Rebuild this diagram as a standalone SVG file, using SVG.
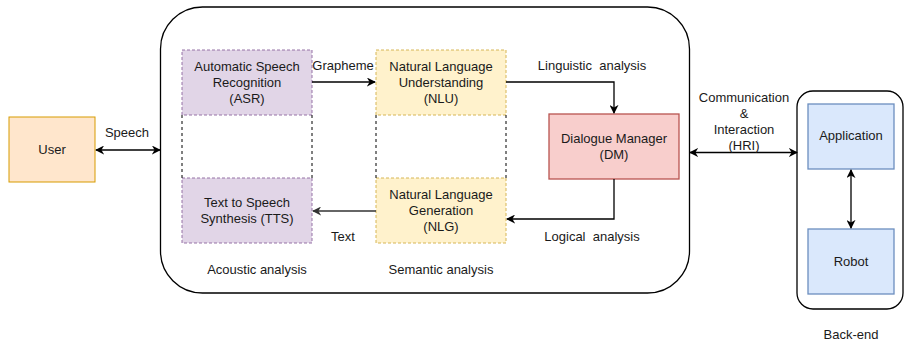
<svg xmlns="http://www.w3.org/2000/svg" width="904" height="344" viewBox="0 0 904 344">
<style>
text{font-family:"Liberation Sans",Arial,sans-serif;font-size:13px;fill:#1a1a1a;text-anchor:middle;white-space:pre}
.c{fill:none;stroke:#000;stroke-width:1.3}
.asr{fill:#e1d5e7;stroke:#9673a6;stroke-dasharray:3 2}
.nl{fill:#fff2cc;stroke:#d6b656;stroke-dasharray:3 2}
.dm{fill:#f8cecc;stroke:#b85450;stroke-width:1.3}
.bl{fill:#dae8fc;stroke:#6c8ebf;stroke-width:1.3}
.dash{fill:none;stroke:#000;stroke-dasharray:3 3}
</style>
<defs>
<marker id="a" viewBox="0 0 10 10" refX="9" refY="5" markerWidth="9" markerHeight="9" markerUnits="userSpaceOnUse" orient="auto-start-reverse">
<path d="M0,0 L10,5 L0,10 L3,5 Z" fill="#000"/>
</marker>
<marker id="g" viewBox="0 0 10 10" refX="9" refY="5" markerWidth="9" markerHeight="9" markerUnits="userSpaceOnUse" orient="auto-start-reverse">
<path d="M0,0 L10,5 L0,10 L3,5 Z" fill="#333"/>
</marker>
</defs>
<g id="front-end">
<rect x="160.5" y="7" width="529" height="286" rx="42" ry="42" fill="#fff" stroke="#000" stroke-width="1.3"/>
<text x="257" y="274">Acoustic analysis</text>
<text x="441" y="274">Semantic analysis</text>
</g>
<g id="back-end">
<rect x="797" y="91" width="106" height="218" rx="16" ry="16" fill="#fff" stroke="#000" stroke-width="1.3"/>
<text x="851" y="339">Back-end</text>
</g>
<g id="user">
<rect x="9" y="117" width="86" height="65" fill="#ffe6cc" stroke="#d79b00"/>
<text x="52" y="154">User</text>
</g>
<g id="asr">
<rect class="asr" x="182" y="50" width="130" height="65"/>
<text x="247" y="71">Automatic Speech</text>
<text x="247" y="86.5">Recognition</text>
<text x="247" y="102.5">(ASR)</text>
</g>
<g id="tts">
<rect class="asr" x="182" y="178" width="130" height="65"/>
<text x="247" y="207">Text to Speech</text>
<text x="247" y="223">Synthesis (TTS)</text>
</g>
<g id="nlu">
<rect class="nl" x="376" y="50" width="130" height="65"/>
<text x="441" y="71">Natural Language</text>
<text x="441" y="86.5">Understanding</text>
<text x="441" y="102.5">(NLU)</text>
</g>
<g id="nlg">
<rect class="nl" x="376" y="178" width="130" height="65"/>
<text x="441" y="199">Natural Language</text>
<text x="441" y="215">Generation</text>
<text x="441" y="231">(NLG)</text>
</g>
<g id="dm">
<rect class="dm" x="549" y="114" width="130" height="65"/>
<text x="614" y="143">Dialogue Manager</text>
<text x="614" y="159">(DM)</text>
</g>
<g id="application">
<rect class="bl" x="808" y="104" width="86" height="65"/>
<text x="851" y="140">Application</text>
</g>
<g id="robot">
<rect class="bl" x="808" y="229" width="86" height="65"/>
<text x="851" y="266">Robot</text>
</g>
<g id="connectors">
<line class="dash" x1="182" y1="115" x2="182" y2="178"/>
<line class="dash" x1="312" y1="115" x2="312" y2="178"/>
<line class="dash" x1="376" y1="115" x2="376" y2="178"/>
<line class="dash" x1="506" y1="115" x2="506" y2="178"/>
<line class="c" x1="96" y1="150" x2="160" y2="150" marker-start="url(#a)" marker-end="url(#a)"/>
<text x="127" y="137">Speech</text>
<line class="c" x1="312" y1="82" x2="375" y2="82" marker-end="url(#a)"/>
<text x="343" y="70">Grapheme</text>
<polyline class="c" points="506,82 614,82 614,113" marker-end="url(#a)"/>
<text x="592" y="70" xml:space="preserve">Linguistic  analysis</text>
<polyline class="c" points="614,179 614,219 507,219" marker-end="url(#a)"/>
<text x="592" y="241" xml:space="preserve">Logical  analysis</text>
<line x1="376" y1="211" x2="313" y2="211" fill="none" stroke="#333" stroke-width="1.3" marker-end="url(#g)"/>
<text x="343" y="241">Text</text>
<line class="c" x1="690" y1="152.5" x2="797" y2="152.5" marker-start="url(#a)" marker-end="url(#a)"/>
<text x="744" y="102">Communication</text>
<text x="744" y="118">&amp;</text>
<text x="744" y="134">Interaction</text>
<text x="744" y="150">(HRI)</text>
<line class="c" x1="851" y1="170" x2="851" y2="228" marker-start="url(#a)" marker-end="url(#a)"/>
</g>
</svg>
